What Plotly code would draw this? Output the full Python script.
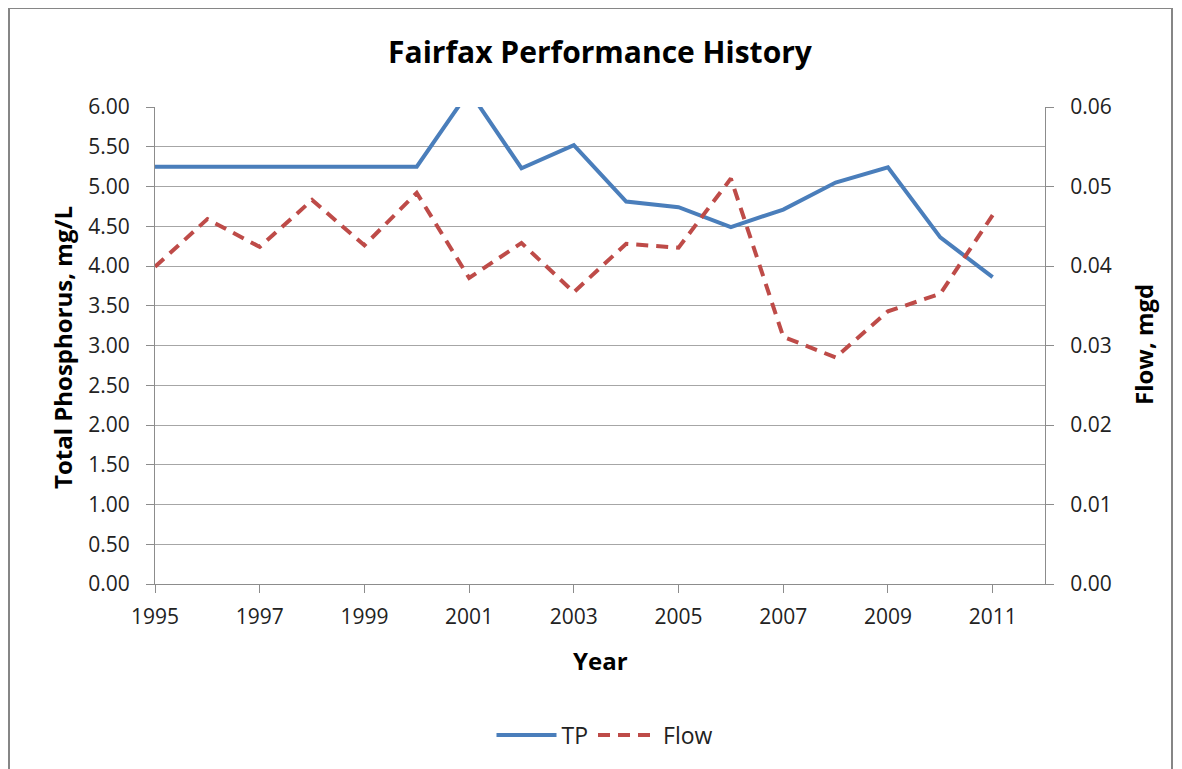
import plotly.graph_objects as go

years = list(range(1995, 2012))
tp = [5.25, 5.25, 5.25, 5.25, 5.25, 5.25, 6.2, 5.23, 5.52, 4.81, 4.74, 4.49, 4.71, 5.05, 5.24, 4.36, 3.86]
flow = [0.0399, 0.0459, 0.0424, 0.0483, 0.0426, 0.0492, 0.0385, 0.0429, 0.0367, 0.0428, 0.0423,
        0.0510, 0.0311, 0.0285, 0.0343, 0.0365, 0.0464]
x_ticks = list(range(1995, 2012, 2))
tp_ticks = [i * 0.5 for i in range(13)]
flow_ticks = [i * 0.01 for i in range(7)]

FONT = "Open Sans"
W, H = 1174, 761
L, R, T, B = 147, 137, 99, 185
PW, PH = W - L - R, H - T - B


def px(xf):
    return (xf - L) / PW


def py(yf):
    return (H - B - yf) / PH


fig = go.Figure()
fig.add_trace(go.Scatter(x=years, y=tp, name="TP", mode="lines",
                         line=dict(color="#4A7EBB", width=4)))
fig.add_trace(go.Scatter(x=years, y=flow, name="Flow", mode="lines", yaxis="y2",
                         line=dict(color="#BE4B48", width=4, dash="12px,8px")))

axis_common = dict(showline=True, linecolor="#8C8C8C", linewidth=1, ticks="outside",
                   ticklen=8, tickcolor="#8C8C8C", zeroline=False)

fig.update_layout(
    width=W, height=H,
    margin=dict(l=L, r=R, t=T, b=B),
    paper_bgcolor="white", plot_bgcolor="white",
    font=dict(family=FONT, size=21, color="#222"),
    title=dict(text="<b>Fairfax Performance History</b>", x=592 / W, xanchor="center",
               y=1 - 44 / H, yanchor="middle", font=dict(size=30, color="black")),
    xaxis=dict(range=[1995, 2012], tickvals=x_ticks, ticktext=[str(v) for v in x_ticks],
               showgrid=False, ticklabelstandoff=6, **axis_common),
    yaxis=dict(range=[0, 6], tickvals=tp_ticks, ticktext=[f"{v:.2f}" for v in tp_ticks],
               showgrid=True, gridcolor="#A6A6A6", gridwidth=1, ticklabelstandoff=12,
               **axis_common),
    yaxis2=dict(range=[0, 0.06], tickvals=flow_ticks, ticktext=[f"{v:.2f}" for v in flow_ticks],
                overlaying="y", side="right", showgrid=False, ticklabelstandoff=12,
                **axis_common),
    legend=dict(orientation="h", x=px(597), xanchor="center", y=py(727), yanchor="middle",
                font=dict(size=23), itemwidth=60),
    showlegend=True,
)

title_font = dict(family=FONT, size=24, color="black")
fig.add_annotation(text="<b>Total Phosphorus, mg/L</b>", xref="paper", yref="paper",
                   x=px(54), y=py(340), textangle=-90, showarrow=False, font=title_font,
                   xanchor="center", yanchor="middle")
fig.add_annotation(text="<b>Flow, mgd</b>", xref="paper", yref="paper",
                   x=px(1135), y=py(337), textangle=-90, showarrow=False, font=title_font,
                   xanchor="center", yanchor="middle")
fig.add_annotation(text="<b>Year</b>", xref="paper", yref="paper",
                   x=px(592), y=py(652), showarrow=False, font=title_font,
                   xanchor="center", yanchor="middle")

fig.add_shape(type="rect", xref="paper", yref="paper",
              x0=px(1), x1=px(1164), y0=py(775), y1=py(0),
              line=dict(color="#868686", width=2), fillcolor="rgba(0,0,0,0)", layer="below")
fig.write_html("out.html")
